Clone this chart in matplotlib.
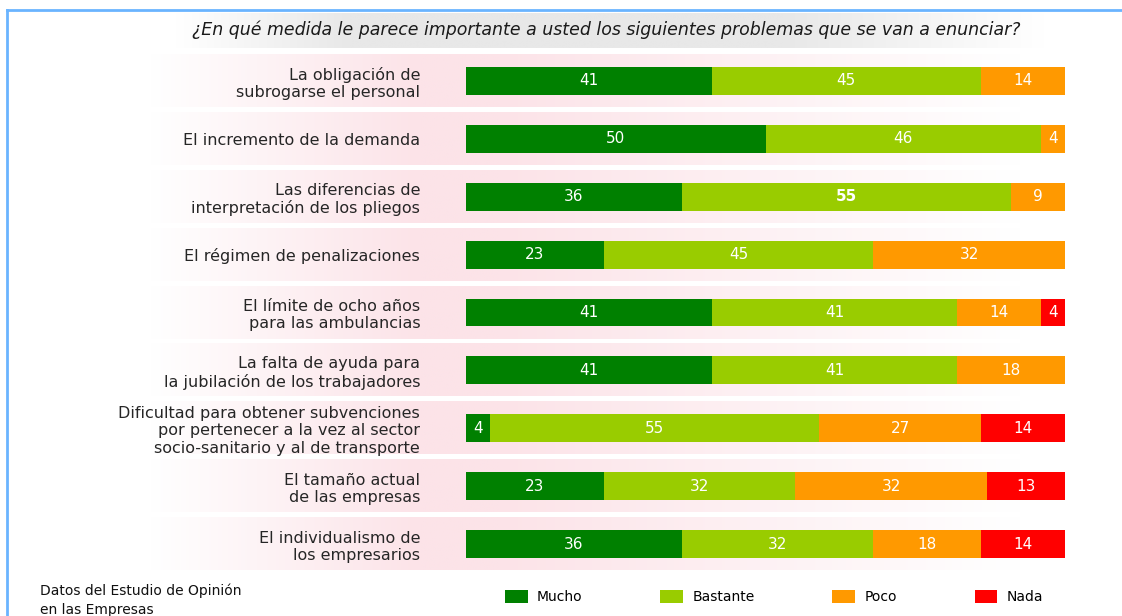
import matplotlib.pyplot as plt
import numpy as np
from matplotlib.colors import LinearSegmentedColormap

title = "¿En qué medida le parece importante a usted los siguientes problemas que se van a enunciar?"

labels = [
    "La obligación de\nsubrogarse el personal",
    "El incremento de la demanda",
    "Las diferencias de\ninterpretación de los pliegos",
    "El régimen de penalizaciones",
    "El límite de ocho años\npara las ambulancias",
    "La falta de ayuda para\nla jubilación de los trabajadores",
    "Dificultad para obtener subvenciones\npor pertenecer a la vez al sector\nsocio-sanitario y al de transporte",
    "El tamaño actual\nde las empresas",
    "El individualismo de\nlos empresarios",
]

mucho = [41, 50, 36, 23, 41, 41, 4, 23, 36]
bastante = [45, 46, 55, 45, 41, 41, 55, 32, 32]
poco = [14, 4, 9, 32, 14, 18, 27, 32, 18]
nada = [0, 0, 0, 0, 4, 0, 14, 13, 14]

series_names = ["Mucho", "Bastante", "Poco", "Nada"]
series_colors = ["#008000", "#99CC00", "#FF9900", "#FF0000"]
bold_cells = [(2, "Bastante")]  # the "55" of row 3 is bold in the original

fig = plt.figure(figsize=(11.22, 6.16), dpi=100)

# background layer in pixel coordinates (title band, frame, footer)
bg = fig.add_axes([0, 0, 1, 1])
bg.set_xlim(0, 1122)
bg.set_ylim(616, 0)
bg.axis("off")

gray = LinearSegmentedColormap.from_list("g", ["#FFFFFF", "#E8E8E8"])
ramp = np.interp(np.linspace(0, 1, 400), [0, 0.2, 0.7, 1], [0, 1, 1, 0])
bg.imshow(ramp[None, :], extent=(175, 1045, 48, 13), cmap=gray, aspect="auto",
          vmin=0, vmax=1)
bg.text(606, 30, title, ha="center", va="center", style="italic",
        fontsize=12.5, color="#1a1a1a")

bg.plot([7, 7], [616, 10], color="#6AB4FF", lw=2)
bg.plot([7, 1122], [10, 10], color="#6AB4FF", lw=2)
bg.set_xlim(0, 1122)
bg.set_ylim(616, 0)

fig.text(40 / 1122, 1 - 584 / 616, "Datos del Estudio de Opinión\nen las Empresas",
         va="top", ha="left", fontsize=10, linespacing=1.4, color="#111111")

# bars
ax = fig.add_axes([466 / 1122, 1 - 573 / 616, 599 / 1122, 521 / 616])
ax.patch.set_visible(False)
y = np.arange(len(labels))

pink = LinearSegmentedColormap.from_list("p", ["#FFFFFF", "#FCE3E8"])
band = np.interp(np.linspace(0, 1, 400), [0, 0.31, 0.4, 1], [0, 1, 1, 0])
for i in y:
    ax.imshow(band[None, :], extent=(-52.8, 92.5, i + 0.45, i - 0.45),
              cmap=pink, aspect="auto", vmin=0, vmax=1, clip_on=False, zorder=0)

left = np.zeros(len(labels))
handles = []
for vals, color, name in zip([mucho, bastante, poco, nada], series_colors, series_names):
    bars = ax.barh(y, vals, left=left, height=0.48, color=color, label=name, zorder=2)
    handles.append(bars)
    for i, (b, v) in enumerate(zip(bars, vals)):
        if v > 0:
            w = "bold" if (i, name) in bold_cells else "normal"
            ax.text(b.get_x() + b.get_width() / 2, b.get_y() + b.get_height() / 2,
                    str(v), ha="center", va="center", color="white",
                    fontsize=11, fontweight=w, zorder=3)
    left = left + np.array(vals)

ax.set_xlim(0, 100)
ax.set_ylim(len(labels) - 0.5, -0.5)
ax.set_yticks(y, labels)
ax.set_xticks([])
ax.tick_params(axis="y", length=0, pad=33, labelsize=11.5, labelcolor="#262626")
for s in ax.spines.values():
    s.set_visible(False)

fig.legend(handles=handles, labels=series_names, loc="center left",
           bbox_to_anchor=(505 / 1122, 1 - 597 / 616), ncol=4, frameon=False,
           fontsize=10, handlelength=1.65, handleheight=1.1, handletextpad=0.65,
           columnspacing=5.6, borderpad=0, borderaxespad=0)

fig.savefig("out.png", dpi=100)
